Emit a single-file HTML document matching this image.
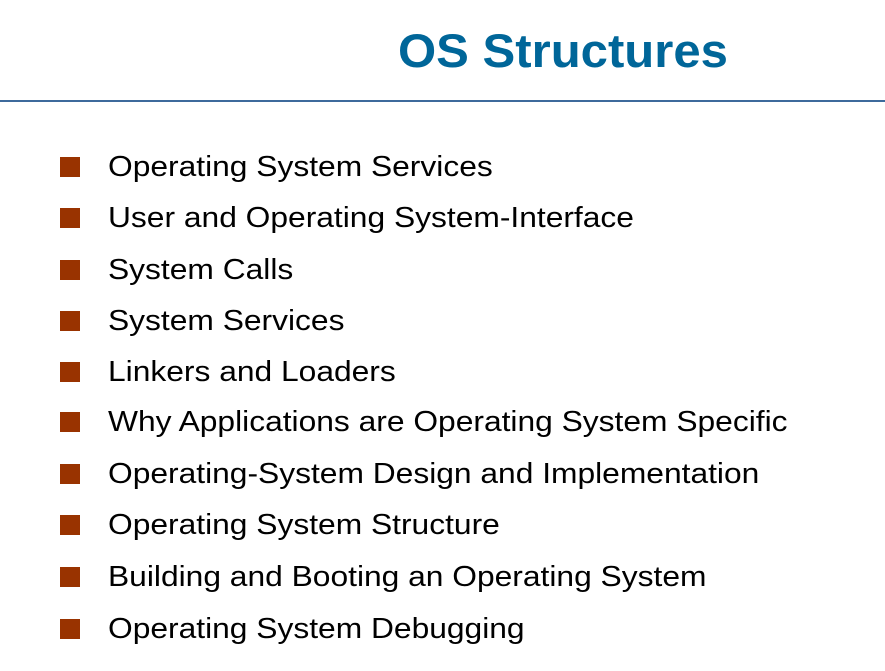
<!DOCTYPE html>
<html><head><meta charset="utf-8"><style>
body{margin:0;width:885px;height:671px;background:#fff;position:relative;overflow:hidden;font-family:"Liberation Sans",Arial,sans-serif}
.t{position:absolute;left:398px;top:23px;font-size:47px;font-weight:bold;color:#006699;white-space:nowrap;transform:scaleX(1.044);transform-origin:0 0}
.hr{position:absolute;left:0;top:100px;width:885px;height:2px;background:#3d6a9c}
.b{position:absolute;left:60px;width:20px;height:20px;background:#993300}
.x{position:absolute;left:108px;font-size:29px;color:#000;white-space:nowrap;line-height:34px;transform:scaleX(1.095);transform-origin:0 0}
</style></head><body>
<div class="t">OS Structures</div>
<div class="hr"></div>
<div class="b" style="top:157px"></div><div class="x" style="top:150px">Operating System Services</div>
<div class="b" style="top:208px"></div><div class="x" style="top:201px">User and Operating System-Interface</div>
<div class="b" style="top:260px"></div><div class="x" style="top:253px">System Calls</div>
<div class="b" style="top:311px"></div><div class="x" style="top:304px">System Services</div>
<div class="b" style="top:362px"></div><div class="x" style="top:355px">Linkers and Loaders</div>
<div class="b" style="top:412px"></div><div class="x" style="top:405px">Why Applications are Operating System Specific</div>
<div class="b" style="top:464px"></div><div class="x" style="top:457px">Operating-System Design and Implementation</div>
<div class="b" style="top:515px"></div><div class="x" style="top:508px">Operating System Structure</div>
<div class="b" style="top:567px"></div><div class="x" style="top:560px">Building and Booting an Operating System</div>
<div class="b" style="top:619px"></div><div class="x" style="top:612px">Operating System Debugging</div>
</body></html>
